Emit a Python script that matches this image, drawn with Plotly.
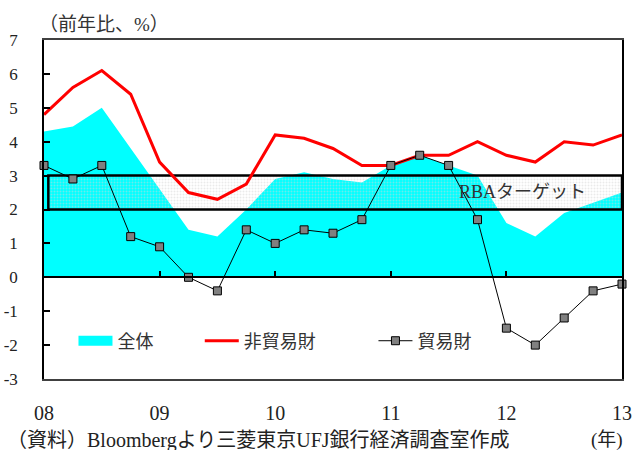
import plotly.graph_objects as go

# Quarterly CPI, year-on-year %, 2008Q1 .. 2013Q1
quarters = list(range(21))
overall = [4.3, 4.45, 5.0, 3.8, 2.6, 1.4, 1.2, 2.0, 2.9, 3.1, 2.9, 2.8,
           3.3, 3.6, 3.3, 3.0, 1.6, 1.2, 1.9, 2.2, 2.5]
non_tradables = [4.8, 5.6, 6.1, 5.4, 3.4, 2.5, 2.3, 2.75, 4.2, 4.1, 3.8, 3.3,
                 3.3, 3.6, 3.6, 4.0, 3.6, 3.4, 4.0, 3.9, 4.2]
tradables = [3.3, 2.9, 3.3, 1.2, 0.9, 0.0, -0.4, 1.4, 1.0, 1.4, 1.3, 1.7,
             3.3, 3.6, 3.3, 1.7, -1.5, -2.0, -1.2, -0.4, -0.2]

# RBA inflation target band
target_lo, target_hi = 2, 3
target_x = [0.15, 20]

year_ticks = [0, 4, 8, 12, 16, 20]
year_labels = ["08", "09", "10", "11", "12", "13"]
y_ticks = [7, 6, 5, 4, 3, 2, 1, 0, -1, -2, -3]
y_labels = ["7", "6", "5", "4", "3", "2", "1", "0", "-1", "-2", "-3"]
y_min, y_max = -3, 7

CJK = "Liberation Serif, Noto Sans CJK JP"
CYAN = "#00FFFF"

fig = go.Figure()

# headline CPI as filled area
fig.add_trace(go.Scatter(
    x=quarters, y=overall, mode="lines", fill="tozeroy",
    fillcolor=CYAN, line=dict(width=0, color=CYAN),
    showlegend=False, hoverinfo="skip",
))

# target band box
fig.add_trace(go.Scatter(
    x=[target_x[0], target_x[1], target_x[1], target_x[0], target_x[0]],
    y=[target_lo, target_lo, target_hi, target_hi, target_lo],
    mode="lines", fill="toself", fillcolor="rgba(0,0,0,0)",
    fillpattern=dict(shape=".", size=3, solidity=0.35,
                     fgcolor="#d6d6d6", bgcolor="rgba(0,0,0,0)"),
    line=dict(color="black", width=2.5),
    showlegend=False, hoverinfo="skip",
))

# legend swatch for the area series
fig.add_trace(go.Scatter(
    x=[None], y=[None], mode="lines", name="全体",
    line=dict(color=CYAN, width=13), legend="legend",
))

fig.add_trace(go.Scatter(
    x=quarters, y=non_tradables, mode="lines", name="非貿易財",
    line=dict(color="#FF0000", width=3), legend="legend2",
))

fig.add_trace(go.Scatter(
    x=quarters, y=tradables, mode="lines+markers", name="貿易財",
    line=dict(color="black", width=1),
    marker=dict(symbol="square", size=8, color="#808080",
                line=dict(color="black", width=1)),
    cliponaxis=False, legend="legend3",
))

legend_common = dict(
    orientation="h", y=0.112, yanchor="middle", xanchor="left",
    bgcolor="rgba(0,0,0,0)", itemwidth=34,
    font=dict(family=CJK, size=18, color="#333333"),
)

fig.update_layout(
    width=632, height=450,
    margin=dict(l=44, r=10, t=40, b=71),
    paper_bgcolor="white", plot_bgcolor="white",
    legend=dict(x=0.051, **legend_common),
    legend2=dict(x=0.2695, **legend_common),
    legend3=dict(x=0.57, **legend_common),
    xaxis=dict(
        range=[0, 20], tickvals=year_ticks, ticktext=year_labels,
        showgrid=False, zeroline=False, ticks="", automargin=False,
        showline=True, linecolor="#404040", linewidth=1.5, mirror=True,
        ticklabelstandoff=15,
        tickfont=dict(family="Liberation Serif", size=20, color="#222222"),
    ),
    # zero line carrying the year ticks
    xaxis2=dict(
        range=[0, 20], overlaying="x", anchor="free",
        position=(0 - y_min) / (y_max - y_min),
        side="bottom", tickvals=year_ticks, showticklabels=False,
        ticks="inside", ticklen=6, tickcolor="black", tickwidth=1.5,
        showline=True, linecolor="black", linewidth=1.5,
        showgrid=False, zeroline=False, automargin=False,
    ),
    yaxis=dict(
        range=[y_min, y_max], tickvals=y_ticks, ticktext=y_labels,
        showgrid=False, zeroline=False, automargin=False,
        ticks="inside", ticklen=6, tickcolor="black", tickwidth=1.5,
        showline=True, linecolor="black", linewidth=1.5, mirror=True,
        ticklabelstandoff=21,
        tickfont=dict(family="Liberation Serif", size=17, color="#222222"),
    ),
    annotations=[
        dict(text="（前年比、%）", xref="paper", yref="paper",
             x=-0.012, y=1.047, xanchor="left", yanchor="middle",
             showarrow=False, font=dict(family=CJK, size=19, color="#333333")),
        dict(text="RBAターゲット", xref="x", yref="y",
             x=16.57, y=2.52, xanchor="center", yanchor="middle",
             showarrow=False, font=dict(family=CJK, size=18, color="#333333")),
        dict(text="（資料）Bloombergより三菱東京UFJ銀行経済調査室作成",
             xref="paper", yref="paper", x=-0.0675, y=-0.18,
             xanchor="left", yanchor="middle", showarrow=False,
             font=dict(family=CJK, size=20, color="#222222")),
        dict(text="(年)", xref="paper", yref="paper", x=1.005, y=-0.18,
             xanchor="right", yanchor="middle", showarrow=False,
             font=dict(family=CJK, size=19, color="#222222")),
    ],
)

# attach an invisible trace to the second x-axis so it is drawn
fig.add_trace(go.Scatter(x=[None], y=[None], xaxis="x2", showlegend=False,
                         hoverinfo="skip"))

fig.write_html("out.html")
